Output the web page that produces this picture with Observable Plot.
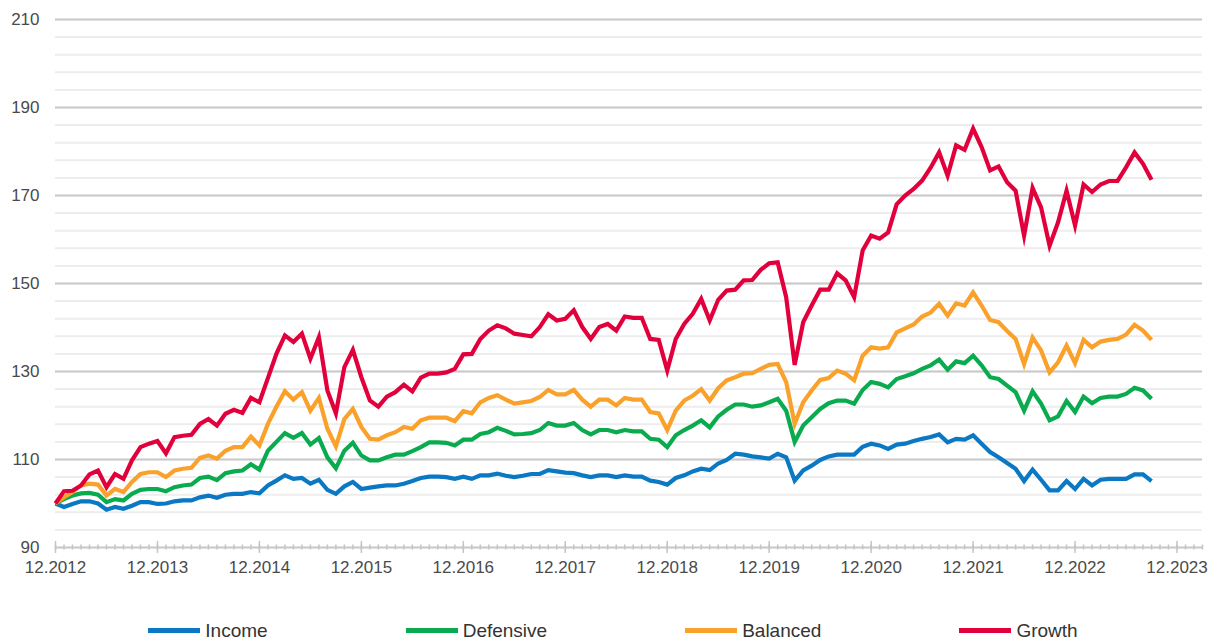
<!DOCTYPE html>
<html><head><meta charset="utf-8">
<script src="https://cdn.jsdelivr.net/npm/d3@7"></script>
<script src="https://cdn.jsdelivr.net/npm/@observablehq/plot@0.6"></script>
<style>
body{margin:0;background:#fff;font-family:"Liberation Sans",Arial,sans-serif;}
#legend{display:flex;justify-content:center;gap:138px;height:41px;align-items:center;font-size:19px;color:#333;padding-left:6px;margin-top:10px}
.item{display:flex;align-items:center;gap:5px}
.swatch{width:52px;height:5px}
</style></head><body><div id="chart"></div><div id="legend"></div>
<script>
// Monthly index values, month 0 = 12.2012 (base 100)
const income = [100,99.2,99.9,100.5,100.5,100,98.6,99.2,98.8,99.5,100.3,100.3,99.9,100,100.5,100.7,100.7,101.4,101.8,101.3,102,102.2,102.2,102.6,102.3,104.1,105.2,106.4,105.6,105.8,104.5,105.4,103.1,102.2,103.9,104.9,103.3,103.6,103.9,104.1,104.1,104.5,105.1,105.8,106.1,106.1,106,105.6,106.1,105.6,106.4,106.4,106.8,106.3,106,106.3,106.7,106.7,107.6,107.3,107,106.9,106.4,106,106.4,106.4,106,106.4,106.1,106.1,105.2,104.9,104.3,105.8,106.4,107.3,107.9,107.6,109.1,109.9,111.3,111.1,110.7,110.5,110.2,111.3,110.5,105.2,107.5,108.6,109.9,110.7,111.1,111.1,111.1,112.9,113.6,113.2,112.4,113.4,113.6,114.2,114.7,115.1,115.7,113.9,114.7,114.5,115.5,113.6,111.7,110.5,109.2,107.9,105.1,107.7,105.4,103,103,105.1,103.3,105.6,104.1,105.4,105.6,105.6,105.6,106.6,106.6,105.1];
const defensive = [100,101,101.8,102.3,102.4,102,100.3,101,100.7,102.2,103.1,103.3,103.3,102.8,103.7,104.1,104.3,105.8,106.1,105.3,106.9,107.3,107.5,108.9,107.7,112,114,116,114.9,116,113.4,114.9,110.5,108,112,113.8,110.9,109.8,109.8,110.5,111.1,111.1,111.9,112.8,113.9,113.9,113.8,113.2,114.5,114.5,115.8,116.2,117.2,116.5,115.7,115.8,116,116.7,118.3,117.7,117.7,118.3,116.7,115.7,116.7,116.7,116.2,116.7,116.4,116.4,114.7,114.5,112.8,115.5,116.7,117.7,118.9,117.3,119.8,121.3,122.5,122.5,122,122.3,123,123.8,121.1,114,117.7,119.6,121.5,122.8,123.4,123.4,122.7,125.8,127.6,127.2,126.4,128.3,128.9,129.6,130.6,131.4,132.7,130.4,132.3,131.9,133.6,131.4,128.7,128.3,126.8,125.3,121.1,125.5,122.7,118.9,119.8,123.3,120.8,124.3,122.8,124,124.3,124.3,124.9,126.3,125.7,123.8];
const balanced = [100,101.4,102.6,104.1,104.5,104.3,101.8,103.3,102.6,104.9,106.7,107.1,107.1,106,107.5,107.9,108.1,110.4,110.9,110.2,112,112.8,112.8,115.2,113.2,118.1,122,125.5,123.6,125.3,121.1,124,117,113,119.2,121.5,117.4,114.7,114.5,115.5,116.2,117.4,117,118.9,119.5,119.5,119.5,118.7,121,120.5,123,124,124.6,123.6,122.7,123,123.3,124.2,125.8,124.8,124.8,125.8,123.6,122,123.6,123.6,122.3,124,123.6,123.6,120.8,120.5,116.7,121.1,123.4,124.5,126,123.4,126.2,128,128.7,129.5,129.6,130.6,131.5,131.7,127.6,118.1,123,125.7,128.1,128.5,130.2,129.5,128,133.6,135.5,135.2,135.5,138.9,139.8,140.7,142.5,143.4,145.4,142.7,145.5,145,148,145,141.7,141.2,139.2,137.4,131.7,137.7,134.8,129.8,132.1,135.9,131.9,137.2,135.5,136.8,137.2,137.4,138.4,140.6,139.3,137.2];
const growth = [100,102.8,102.9,104.1,106.6,107.5,103.7,106.7,105.6,109.8,112.8,113.6,114.2,111.4,115.1,115.4,115.6,118.1,119.2,117.7,120.4,121.3,120.6,124,123,128.5,134,138.2,136.7,138.6,132.9,137.8,125.7,120.5,131,134.9,128.7,123.4,122,124.3,125.3,127,125.5,128.6,129.5,129.5,129.8,130.6,133.9,134,137.4,139.3,140.5,139.8,138.6,138.3,138,140.1,143,141.6,142,143.9,140.1,137.4,140.1,140.8,139.3,142.5,142.2,142.2,137.4,137.2,130.2,137.4,140.8,143.1,146.5,141.6,146.3,148.4,148.6,150.7,150.8,153.1,154.6,154.8,146.9,131.5,141.2,145,148.6,148.6,152.3,150.7,146.9,157.5,160.9,160.2,161.6,168,170,171.5,173.4,176.3,179.8,174.5,181.4,180.4,185.2,181,175.7,176.6,173,171.1,160.9,171.7,167.3,158.6,163.9,171.1,163.2,172.5,170.8,172.5,173.3,173.3,176.4,179.8,177.2,173.6];

const seriesNames = ["Income","Defensive","Balanced","Growth"];
const seriesColors = ["#0a78c2","#0aab4f","#f9a12a","#e2003c"];
const seriesValues = [income, defensive, balanced, growth];

const yearLabels = ["12.2012","12.2013","12.2014","12.2015","12.2016","12.2017","12.2018","12.2019","12.2020","12.2021","12.2022","12.2023"];
const yMajor = [90,110,130,150,170,190,210];
const yMinor = d3.range(90, 211, 4);

const rows = seriesNames.flatMap((name, s) =>
  seriesValues[s].map((v, i) => ({series: name, month: i, value: v})));

const yearTicks = yearLabels.map((_, k) => k * 12);
const monthTicks = d3.range(0, 136);

const chart = Plot.plot({
  width: 1220, height: 600,
  marginLeft: 55, marginRight: 18, marginTop: 19, marginBottom: 53,
  style: {fontFamily: "'Liberation Sans', Arial, sans-serif", fontSize: "17px", color: "#444", background: "#fff"},
  x: {domain: [0, 135], axis: null},
  y: {domain: [90, 210], axis: null},
  color: {domain: seriesNames, range: seriesColors},
  marks: [
    Plot.ruleY(yMinor, {stroke: "#ededed", strokeWidth: 2}),
    Plot.ruleY(yMajor, {stroke: "#c9c9c9", strokeWidth: 2}),
    Plot.axisX(monthTicks, {tickSize: 5, dy: -2.5, tickFormat: () => "", label: null, stroke: "#c4c4c4", strokeWidth: 1.5}),
    Plot.axisX(yearTicks, {tickSize: 12, dy: -6, tickPadding: 7, label: null, stroke: "#c4c4c4", strokeWidth: 1.5,
      tickFormat: i => yearLabels[i / 12], fill: "#4a4a4a", fontSize: 17}),
    Plot.axisY(yMajor, {tickSize: 0, tickPadding: 16, label: null, fill: "#4a4a4a", fontSize: 17}),
    Plot.line(rows, {x: "month", y: "value", z: "series", stroke: "series",
      strokeWidth: 4.2, strokeLinejoin: "miter", strokeMiterlimit: 6, strokeLinecap: "butt"})
  ]
});
document.getElementById("chart").append(chart);

const legend = document.getElementById("legend");
seriesNames.forEach((name, s) => {
  const item = document.createElement("div");
  item.className = "item";
  const sw = document.createElement("span");
  sw.className = "swatch";
  sw.style.background = seriesColors[s];
  const t = document.createElement("span");
  t.textContent = name;
  item.append(sw, t);
  legend.append(item);
});
</script>
</body></html>
